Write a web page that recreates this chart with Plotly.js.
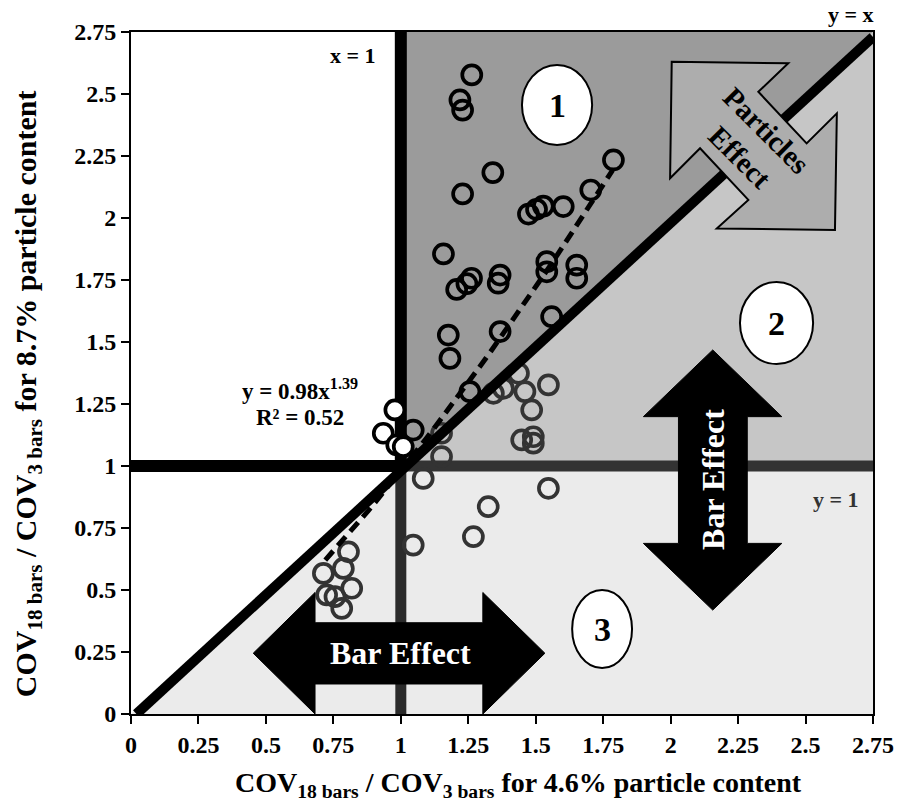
<!DOCTYPE html>
<html>
<head>
<meta charset="utf-8">
<script src="https://cdn.plot.ly/plotly-3.0.1.min.js"></script>
<style>html,body{margin:0;padding:0;background:#fff;}#chart{width:918px;height:811px;}</style>
</head>
<body>
<div id="chart"></div>
<script>
// ---- data ----
const tickValues = [0, 0.25, 0.5, 0.75, 1, 1.25, 1.5, 1.75, 2, 2.25, 2.5, 2.75];
const tickLabels = ["0", "0.25", "0.5", "0.75", "1", "1.25", "1.5", "1.75", "2", "2.25", "2.5", "2.75"];

// COV ratio for 4.6% particle content (x) vs 8.7% particle content (y)
const cov46 = [1.263, 1.219, 1.229, 1.341, 1.229, 1.788, 1.704, 1.602, 1.528, 1.503,
               1.473, 1.158, 1.262, 1.207, 1.245, 1.368, 1.361, 1.541, 1.541, 1.652,
               1.652, 1.176, 1.182, 1.368, 1.559, 1.436, 1.547, 1.460, 1.485, 1.380,
               1.343, 1.256, 1.448, 1.491, 1.491, 1.547, 1.324, 1.083, 1.151, 1.151,
               1.046, 0.978, 0.935, 0.985, 1.009, 1.046, 1.269, 0.806, 0.713, 0.787,
               0.818, 0.725, 0.756, 0.781];
const cov87 = [2.577, 2.476, 2.435, 2.183, 2.097, 2.234, 2.113, 2.046, 2.048, 2.035,
               2.016, 1.855, 1.757, 1.712, 1.735, 1.770, 1.737, 1.824, 1.783, 1.810,
               1.757, 1.528, 1.434, 1.542, 1.602, 1.374, 1.327, 1.300, 1.226, 1.313,
               1.293, 1.300, 1.105, 1.118, 1.092, 0.910, 0.836, 0.950, 1.038, 1.132,
               1.145, 1.226, 1.132, 1.085, 1.078, 0.681, 0.715, 0.654, 0.567, 0.587,
               0.507, 0.480, 0.473, 0.426];

// power trendline reported on the chart: y = 0.98 x^1.39, R² = 0.52
const fitA = 0.98, fitB = 1.39;
const fitStart = 0.72, fitEnd = 1.785;

// ---- derived ----
const fitX = [], fitY = [];
const nFit = 40;
for (let i = 0; i <= nFit; i++) {
  const xv = fitStart + (fitEnd - fitStart) * i / nFit;
  fitX.push(xv);
  fitY.push(fitA * Math.pow(xv, fitB));
}
const fillCols = cov46.map((xv, i) => (xv < 1.02 && cov87[i] > 1) ? '#ffffff' : 'rgba(0,0,0,0)');
const lineCols = cov46.map((xv, i) => (cov87[i] >= xv) ? '#000000' : '#333333');

const serif = "'Liberation Serif', 'Times New Roman', serif";

const traces = [
  {
    x: cov46, y: cov87, type: 'scatter', mode: 'markers', cliponaxis: false,
    marker: { size: 19, color: fillCols, line: { color: lineCols, width: 3.7 } },
    hoverinfo: 'x+y'
  },
  {
    x: fitX, y: fitY, type: 'scatter', mode: 'lines',
    line: { color: '#000', width: 5, dash: '12px,7px' },
    hoverinfo: 'skip'
  }
];

const shapes = [
  // regions
  { type: 'path', path: 'M0,0 L2.75,0 L2.75,1 L1,1 Z', xref: 'x', yref: 'y', fillcolor: '#ebebeb', line: { width: 0 }, layer: 'below' },
  { type: 'path', path: 'M1,1 L2.75,1 L2.75,2.75 Z', xref: 'x', yref: 'y', fillcolor: '#c6c6c6', line: { width: 0 }, layer: 'below' },
  { type: 'path', path: 'M1,1 L2.75,2.75 L1,2.75 Z', xref: 'x', yref: 'y', fillcolor: '#9b9b9b', line: { width: 0 }, layer: 'below' },
  // x = 1 and y = 1
  { type: 'line', xref: 'x', yref: 'y', x0: 1, x1: 1, y0: 0, y1: 1, line: { color: '#2b2b2b', width: 11 }, layer: 'below' },
  { type: 'line', xref: 'x', yref: 'y', x0: 1, x1: 2.75, y0: 1, y1: 1, line: { color: '#333333', width: 11 }, layer: 'below' },
  { type: 'line', xref: 'x', yref: 'y', x0: 1, x1: 1, y0: 1, y1: 2.75, line: { color: '#000', width: 12 }, layer: 'below' },
  { type: 'line', xref: 'x', yref: 'y', x0: 0, x1: 1, y0: 1, y1: 1, line: { color: '#000', width: 12 }, layer: 'below' },
  // y = x
  { type: 'line', xref: 'x', yref: 'y', x0: 0.02, x1: 2.75, y0: 0, y1: 2.73, line: { color: '#000', width: 10 }, layer: 'above' },
  // Particles effect arrow
  { type: 'path', xref: 'x', yref: 'y', layer: 'above', fillcolor: '#adadad', line: { color: '#000', width: 2 },
    path: 'M2.004,2.630 L2.436,2.624 L2.325,2.509 L2.504,2.301 L2.616,2.422 L2.609,1.952 L2.171,1.958 L2.288,2.073 L2.109,2.281 L1.998,2.160 Z' },
  // vertical bar effect arrow
  { type: 'path', xref: 'x', yref: 'y', layer: 'above', fillcolor: '#000', line: { color: '#000', width: 1 },
    path: 'M2.156,1.468 L1.899,1.199 L2.029,1.199 L2.029,0.688 L1.899,0.688 L2.156,0.419 L2.412,0.688 L2.284,0.688 L2.284,1.199 L2.412,1.199 Z' },
  // horizontal bar effect arrow
  { type: 'path', xref: 'x', yref: 'y', layer: 'above', fillcolor: '#000', line: { color: '#000', width: 1 },
    path: 'M0.453,0.245 L0.682,0.490 L0.682,0.368 L1.304,0.368 L1.304,0.490 L1.534,0.245 L1.304,0.0 L1.304,0.121 L0.682,0.121 L0.682,0.0 Z' },
  // region labels
  { type: 'circle', xref: 'x', yref: 'y', layer: 'above', x0: 1.449, x1: 1.709, y0: 2.294, y1: 2.617, fillcolor: '#fff', line: { color: '#000', width: 2 } },
  { type: 'circle', xref: 'x', yref: 'y', layer: 'above', x0: 2.257, x1: 2.528, y0: 1.411, y1: 1.742, fillcolor: '#fff', line: { color: '#000', width: 2 } },
  { type: 'circle', xref: 'x', yref: 'y', layer: 'above', x0: 1.635, x1: 1.857, y0: 0.185, y1: 0.500, fillcolor: '#fff', line: { color: '#000', width: 2 } }
];

function ann(text, x, y, size, color, extra) {
  return Object.assign({ text: text, x: x, y: y, xref: 'x', yref: 'y', showarrow: false,
    font: { family: serif, size: size, color: color || '#000', weight: 'bold' } }, extra || {});
}

const annotations = [
  ann('1', 1.579, 2.455, 34),
  ann('2', 2.392, 1.576, 34),
  ann('3', 1.746, 0.342, 34),
  ann('Particles<br>Effect', 2.306, 2.298, 29, '#000', { textangle: 45 }),
  ann('Bar Effect', 2.157, 0.944, 32, '#fff', { textangle: -90 }),
  ann('Bar Effect', 0.997, 0.246, 32, '#fff'),
  ann('y = 0.98x<sup>1.39</sup>', 0.626, 1.310, 23),
  ann('R² = 0.52', 0.626, 1.194, 23),
  ann('x = 1', 0.823, 2.657, 22),
  ann('y = 1', 2.613, 0.863, 22, '#333'),
  { text: 'y = x', xref: 'paper', yref: 'paper', x: 0.970, y: 1.025, xanchor: 'center', yanchor: 'middle', showarrow: false,
    font: { family: serif, size: 22, color: '#000', weight: 'bold' } },
  { text: 'COV<sub>18 bars</sub> / COV<sub>3 bars</sub> for 4.6% particle content', xref: 'paper', yref: 'paper',
    x: 0.5216, y: -0.104, xanchor: 'center', yanchor: 'middle', showarrow: false,
    font: { family: serif, size: 28, color: '#000', weight: 'bold' } },
  { text: 'COV<sub>18 bars</sub> / COV<sub>3 bars</sub> for 8.7% particle content', xref: 'paper', yref: 'paper',
    x: -0.1388, y: 0.469, xanchor: 'center', yanchor: 'middle', textangle: -90, showarrow: false,
    font: { family: serif, size: 30, color: '#000', weight: 'bold' } }
];

const axisCommon = {
  range: [0, 2.75], tickmode: 'array', tickvals: tickValues, ticktext: tickLabels,
  ticks: 'outside', ticklen: 8, tickwidth: 2, tickcolor: '#000',
  showline: true, linecolor: '#000', linewidth: 2, mirror: true,
  showgrid: false, zeroline: false, fixedrange: true,
  tickfont: { family: serif, size: 24, color: '#000', weight: 'bold' }
};

const layout = {
  width: 918, height: 811,
  margin: { l: 131, r: 45, t: 32, b: 97 },
  paper_bgcolor: '#fff', plot_bgcolor: '#fff',
  showlegend: false,
  xaxis: Object.assign({}, axisCommon),
  yaxis: Object.assign({}, axisCommon),
  shapes: shapes,
  annotations: annotations
};

Plotly.newPlot('chart', traces, layout, { displayModeBar: false, staticPlot: true });
</script>
</body>
</html>
